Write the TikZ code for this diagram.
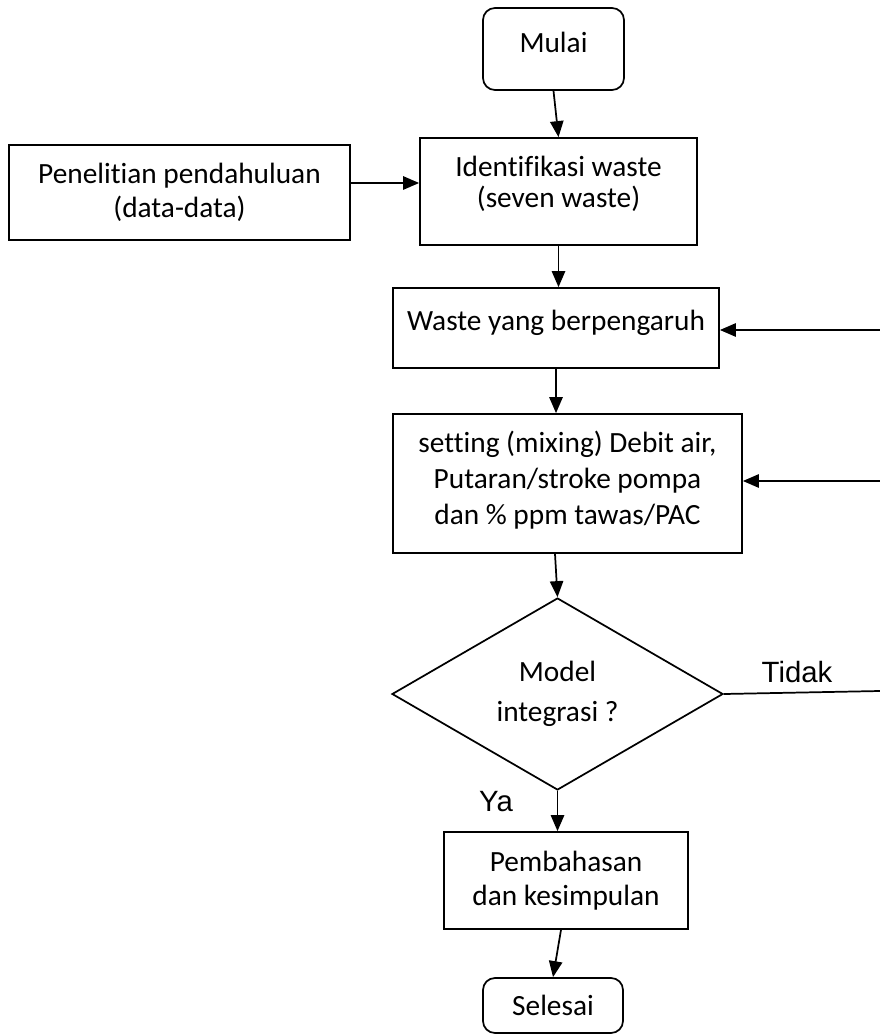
\documentclass[tikz,border=0pt]{standalone}
\usepackage{fontspec}
\setmainfont{Carlito}[Ligatures=NoCommon]
\newfontfamily\arialf{Liberation Sans}
\usetikzlibrary{shapes.geometric,arrows.meta}
\begin{document}
\begin{tikzpicture}[x=0.75pt,y=-0.75pt,
  box/.style={draw,line width=1.3pt,align=center,inner sep=0pt,font=\fontsize{22}{25}\selectfont},
  term/.style={box,rounded corners=9pt},
  txt/.style={align=center,inner sep=0pt,font=\fontsize{22}{25}\selectfont},
  arr/.style={line width=1.3pt,-{Triangle[length=12pt,width=10pt]}},
  lbl/.style={font=\arialf\fontsize{22}{25}\selectfont,inner sep=0pt}]
\useasboundingbox (0,0) rectangle (880,1034);
\node[term,minimum width=105.75pt,minimum height=61.5pt] (mulai) at (553.5,49) {};
\node[txt] (mulait) at (553.5,42) {Mulai};
\node[box,minimum width=207.75pt,minimum height=80.25pt] (ident) at (558.5,191.5) {};
\node[txt,font=\fontsize{22}{23}\selectfont] (identt) at (558.5,184) {Identifikasi waste\\(seven waste)};
\node[box,minimum width=255.75pt,minimum height=71.25pt] (pen) at (179.5,192.5) {Penelitian pendahuluan\\(data-data)};
\node[box,minimum width=244.5pt,minimum height=60pt] (waste) at (556,328) {};
\node[txt] (wastet) at (556,323) {Waste yang berpengaruh};
\node[box,minimum width=261.75pt,minimum height=104.25pt] (set) at (567.5,483.5) {};
\node[txt,font=\fontsize{22}{27}\selectfont] (sett) at (567.5,480) {setting (mixing) Debit air,\\Putaran/stroke pompa\\dan \% ppm tawas/PAC};
\node[draw,line width=1.3pt,diamond,aspect=1.724,minimum width=248.25pt,minimum height=144pt,inner sep=0pt,align=center,font=\fontsize{22}{30}\selectfont] (dia) at (557.5,694) {Model\\integrasi ?};
\node[box,minimum width=183pt,minimum height=72.75pt,font=\fontsize{22}{25.5}\selectfont] (pemb) at (566,880.5) {Pembahasan\\dan kesimpulan};
\node[term,minimum width=105pt,minimum height=41.25pt] (sel) at (553,1005.5) {Selesai};
\coordinate (r1) at (880,330);
\coordinate (r2) at (880,481);
\coordinate (r3) at (880,691);
\node[lbl] (tidak) at (797,672) {Tidak};
\node[lbl] (ya) at (496,802) {Ya};
\draw[arr] (mulai.south) -- (ident.north);
\draw[arr] (pen.east |- 0,183) -- (ident.west |- 0,183);
\draw[arr] (ident.south) -- (ident.south |- waste.north);
\draw[arr] (waste.south) -- (waste.south |- set.north);
\draw[arr] (r1) -- (r1 -| waste.east);
\draw[arr] (r2) -- (r2 -| set.east);
\draw[arr] (set.south -| 555,0) -- (dia.north);
\draw[line width=1.3pt] (dia.east) -- (r3);
\draw[arr] (dia.south) -- (dia.south |- pemb.north);
\draw[arr] (pemb.south -| 561,0) -- (sel.north);
\end{tikzpicture}
\end{document}
